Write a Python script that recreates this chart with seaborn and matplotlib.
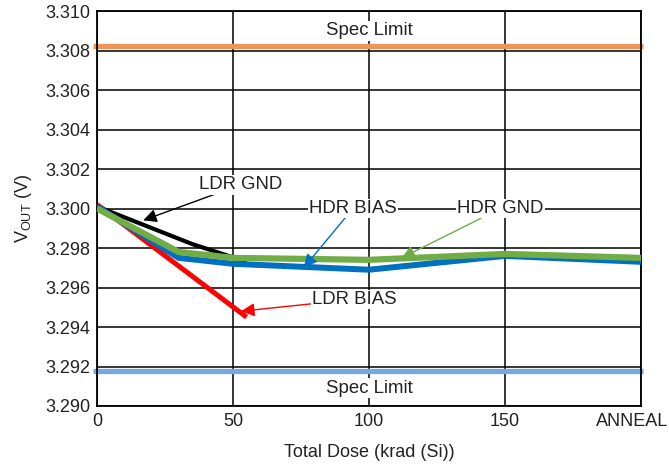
import numpy as np
import pandas as pd
import seaborn as sns
import matplotlib.pyplot as plt
import matplotlib.transforms as mtrans

## Data: ======================================================================
ldr_bias_dose = [0, 55]
ldr_bias_vout = [3.3002, 3.2945]

ldr_gnd_dose = [0, 35, 55]
ldr_gnd_vout = [3.3001, 3.2982, 3.2973]

hdr_dose = [0, 30, 50, 100, 150, 200]
hdr_bias_vout = [3.3001, 3.2975, 3.2972, 3.2969, 3.2976, 3.2973]
hdr_gnd_vout = [3.3000, 3.2978, 3.2975, 3.2974, 3.2977, 3.2975]

spec_upper = 3.30825
spec_lower = 3.29175

x_ticks = [0, 50, 100, 150, 200]
x_tick_labels = ["0", "50", "100", "150", "ANNEAL"]
y_ticks = np.arange(3.290, 3.3105, 0.002)

## Style: =====================================================================
sns.set_style("white")
plt.rcParams["font.family"] = ["Liberation Sans", "DejaVu Sans"]
plt.rcParams["mathtext.fontset"] = "custom"
plt.rcParams["mathtext.rm"] = "Liberation Sans"
plt.rcParams["mathtext.it"] = "Liberation Sans:italic"
fs = 13
fs_note = 13.4
txt_col = "#222222"

series = [
    # name, dose, vout, colour, width
    ("LDR BIAS", ldr_bias_dose, ldr_bias_vout, "#FF0000", 3.6),
    ("LDR GND", ldr_gnd_dose, ldr_gnd_vout, "#000000", 3.0),
    ("HDR BIAS", hdr_dose, hdr_bias_vout, "#0070C0", 4.3),
    ("HDR GND", hdr_dose, hdr_gnd_vout, "#70AD47", 4.5),
]

fig = plt.figure(figsize=(6.69, 4.66), dpi=100)
ax = fig.add_axes([97/669, 1-406/466, (641-97)/669, (406-11)/466])

for i, (name, dose, vout, col, lw) in enumerate(series):
    df = pd.DataFrame({"dose": dose, "vout": vout})
    sns.lineplot(data=df, x="dose", y="vout", color=col, linewidth=lw,
                 ax=ax, zorder=3 + i, solid_joinstyle="miter", solid_capstyle="butt")

for val, col in [(spec_upper, "#F0955A"), (spec_lower, "#74A9DB")]:
    ax.axhline(val, xmin=-0.007, xmax=1.004, color=col, lw=3.8,
               clip_on=False, zorder=2, solid_capstyle="butt")

ax.set_xlim(0, 200)
ax.set_ylim(3.290, 3.310)
ax.set_xticks(x_ticks)
ax.set_xticklabels(x_tick_labels)
ax.set_yticks(y_ticks)
ax.set_yticklabels(["{:.3f}".format(v) for v in y_ticks])
ax.tick_params(axis="both", length=0, labelsize=fs, colors=txt_col, pad=5)
# ANNEAL sits a little left of the last gridline in the original
last = ax.get_xticklabels()[-1]
last.set_transform(last.get_transform() + mtrans.ScaledTranslation(-9/100, 0, fig.dpi_scale_trans))
ax.grid(True, color="black", linewidth=1.1)
ax.set_axisbelow(True)
for sp in ax.spines.values():
    sp.set_color("black")
    sp.set_linewidth(1.3)

ax.set_xlabel("Total Dose (krad (Si))", fontsize=fs, color=txt_col, labelpad=10)
ax.set_ylabel(r"V$_{\mathrm{OUT}}$ (V)", fontsize=fs, color=txt_col, labelpad=8)

box = dict(facecolor="white", edgecolor="none", pad=1.0)
ax.text(100, 3.3090, "Spec Limit", ha="center", va="center", fontsize=fs_note,
        color=txt_col, bbox=box, zorder=4)
ax.text(100, 3.2909, "Spec Limit", ha="center", va="center", fontsize=fs_note,
        color=txt_col, bbox=box, zorder=4)

def label(text, xy, xytext, col):
    ax.annotate(text, xy=xy, xytext=xytext, ha="left", va="center", fontsize=fs_note,
                color=txt_col, bbox=box, zorder=10,
                arrowprops=dict(arrowstyle="-|>", color=col, lw=1.0,
                                mutation_scale=20, shrinkA=0, shrinkB=0))

label("LDR GND", (17, 3.2994), (37.5, 3.3012), "black")
label("HDR BIAS", (76, 3.2970), (78, 3.3000), "#0070C0")
label("HDR GND", (112, 3.2975), (132.5, 3.3000), "#70AD47")
label("LDR BIAS", (53, 3.2948), (79, 3.2954), "#FF0000")

fig.savefig("out.png", dpi=100)
